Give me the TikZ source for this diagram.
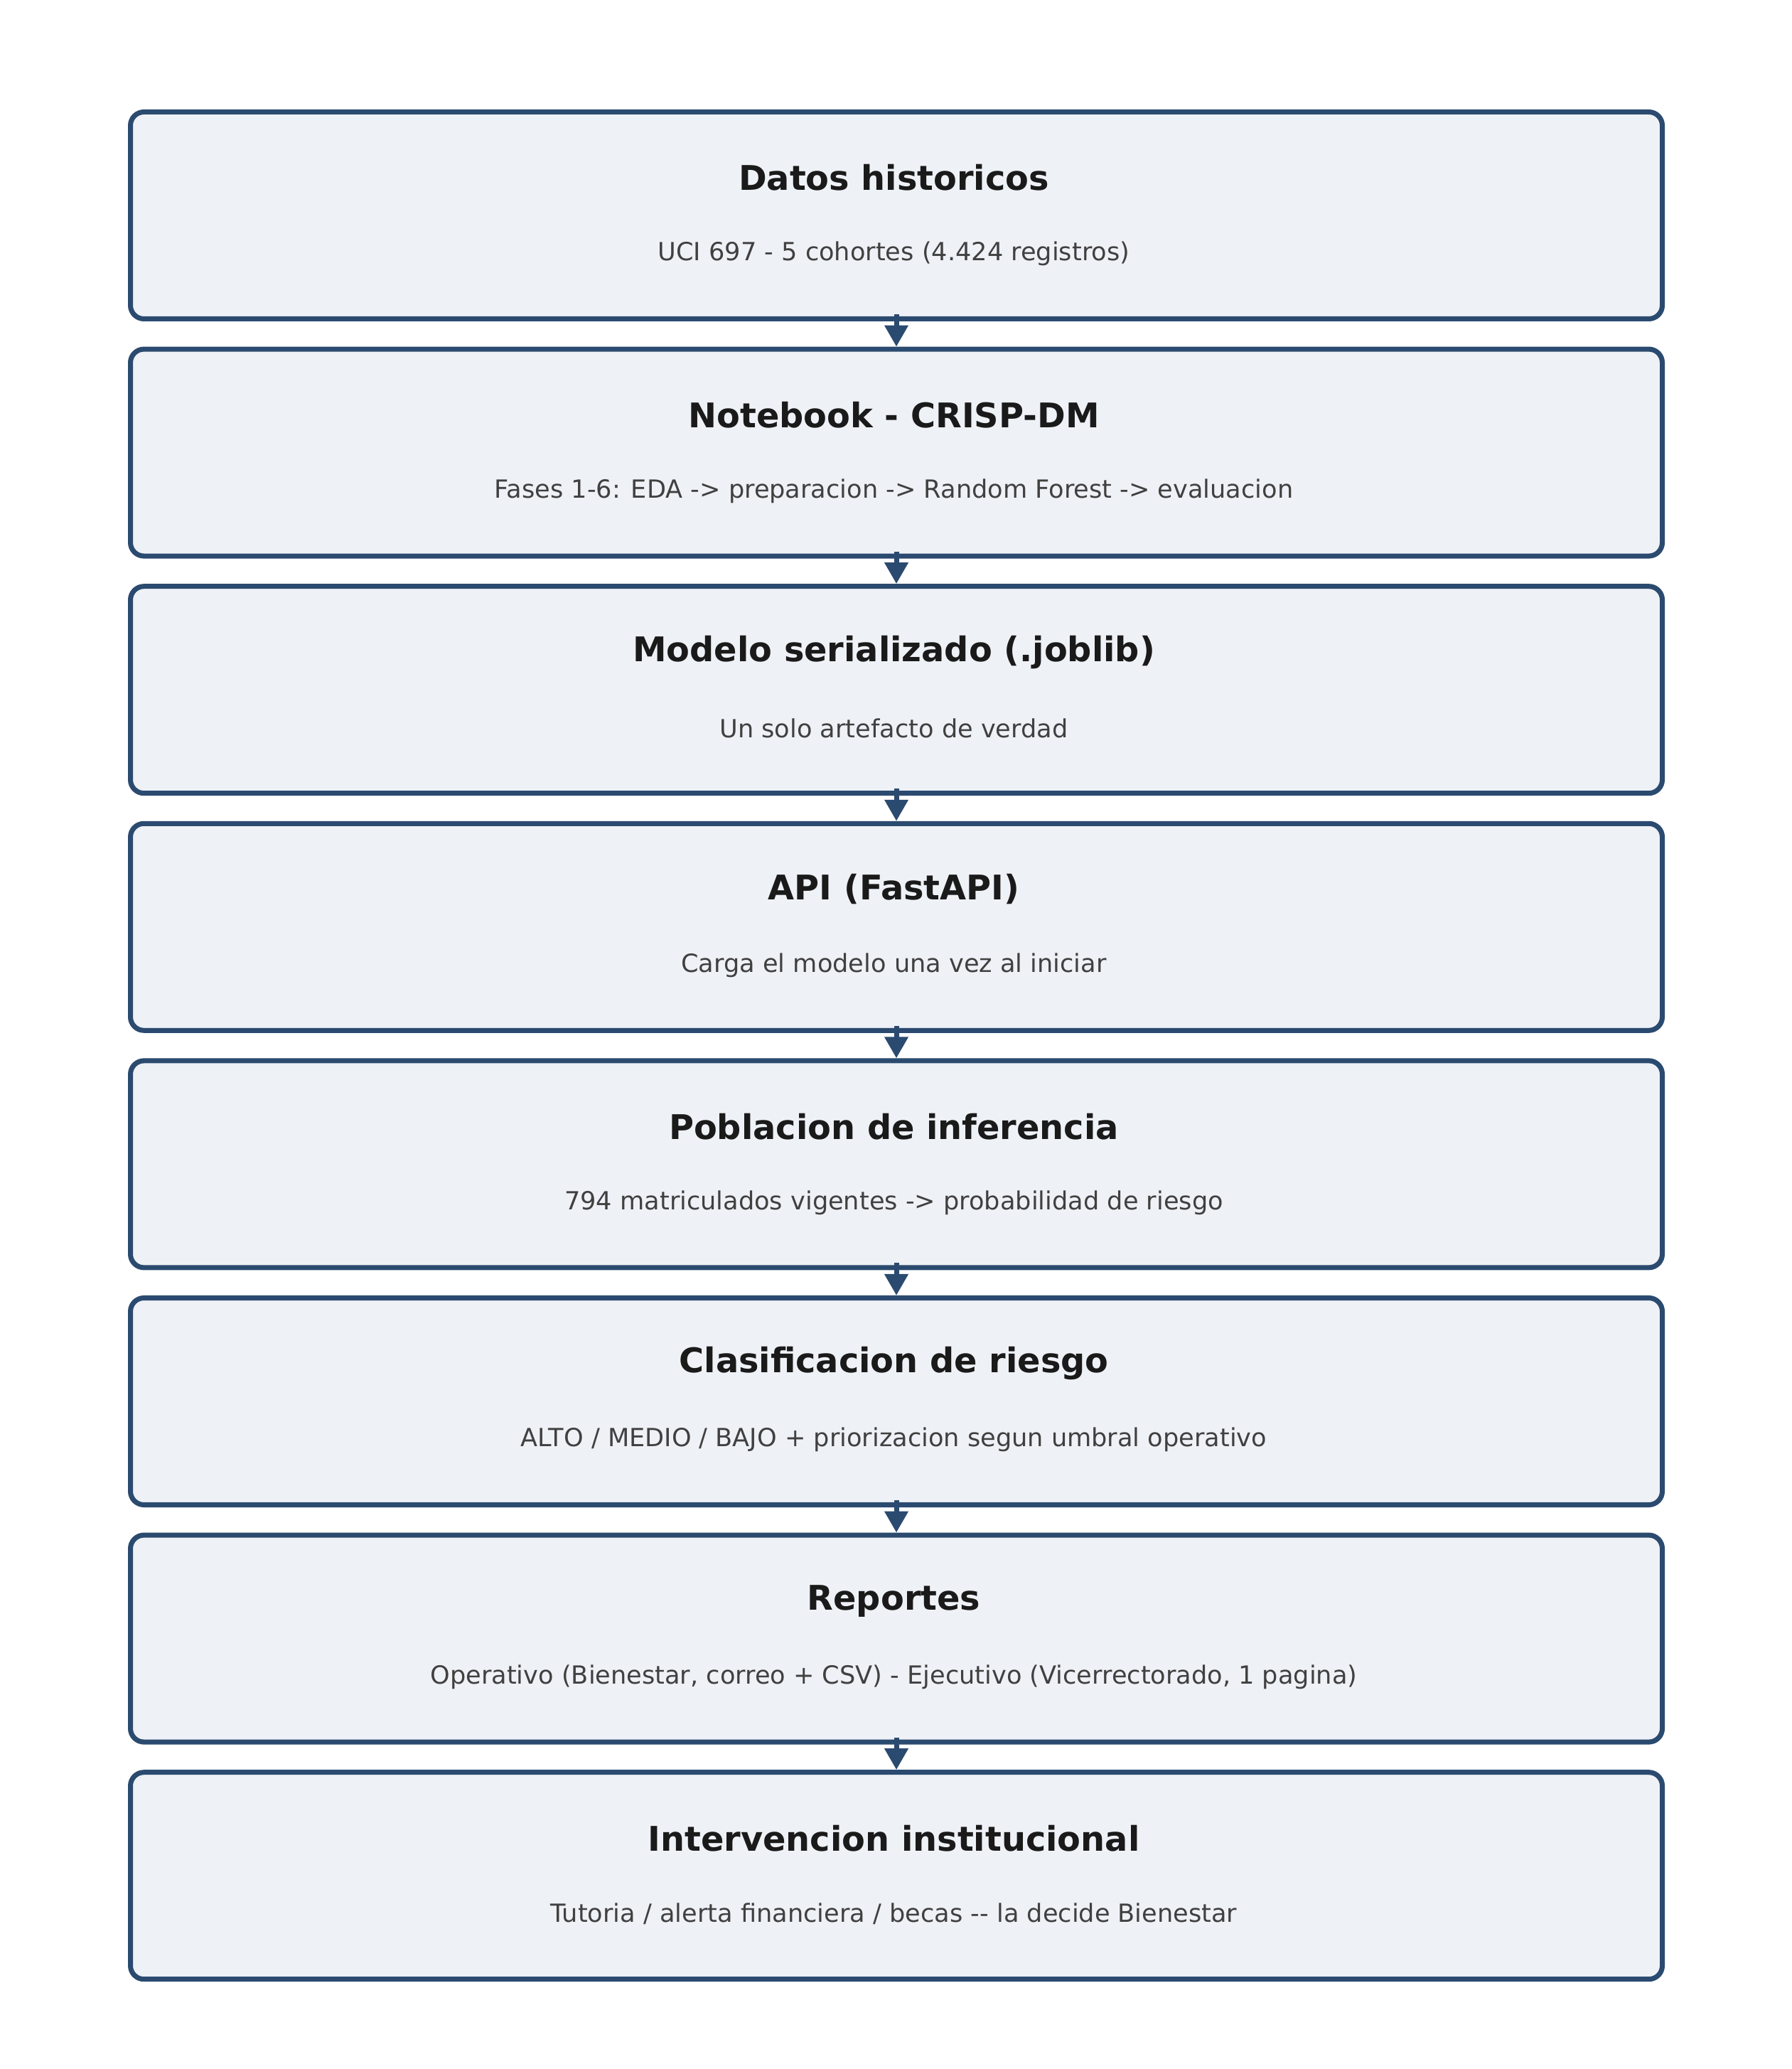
\documentclass[tikz,border=0pt]{standalone}
\usepackage{fontspec}
\setmainfont{DejaVu Sans}
\usetikzlibrary{arrows.meta}
\definecolor{bord}{HTML}{2B4A6F}
\definecolor{fillc}{HTML}{EEF1F6}
\definecolor{ttl}{HTML}{1A1A1A}
\definecolor{sub}{HTML}{404040}
\begin{document}
\begin{tikzpicture}[
  box/.style={draw=bord, fill=fillc, line width=2pt, rounded corners=0.19cm,
    minimum width=21.55cm, minimum height=2.91cm, anchor=north west, inner sep=0pt},
  ttl/.style={font=\fontsize{13.6}{16}\selectfont\bfseries, text=ttl},
  sub/.style={font=\fontsize{10}{12}\selectfont, text=sub},
  arr/.style={draw=bord, line width=2pt, -{Triangle[length=0.3cm,width=0.32cm]}}
]
\useasboundingbox (0,0) rectangle (25.2,29.1);
\foreach \i/\t/\s in {
 1/{Datos historicos}/{UCI 697 - 5 cohortes (4.424 registros)},
 2/{Notebook - CRISP-DM}/{Fases 1-6: EDA -> preparacion -> Random Forest -> evaluacion},
 3/{Modelo serializado (.joblib)}/{Un solo artefacto de verdad},
 4/{API (FastAPI)}/{Carga el modelo una vez al iniciar},
 5/{Poblacion de inferencia}/{794 matriculados vigentes -> probabilidad de riesgo},
 6/{Clasificacion de riesgo}/{ALTO / MEDIO / BAJO + priorizacion segun umbral operativo},
 7/{Reportes}/{Operativo (Bienestar, correo + CSV) - Ejecutivo (Vicerrectorado, 1 pagina)},
 8/{Intervencion institucional}/{Tutoria / alerta financiera / becas -{}- la decide Bienestar}}{
 \pgfmathsetmacro{\y}{27.56-(\i-1)*3.336}
 \node[box] (b\i) at (1.80,\y) {};
 \node[ttl] (t\i) at (12.575,\y-0.96) {\t};
 \node[sub] (s\i) at (12.575,\y-2.03) {\s};
}
\foreach \i [evaluate=\i as \j using int(\i+1)] in {1,...,7}{
 \draw[arr] ([yshift=0.1cm]b\i.south) -- (b\j.north);
}
\end{tikzpicture}
\end{document}
